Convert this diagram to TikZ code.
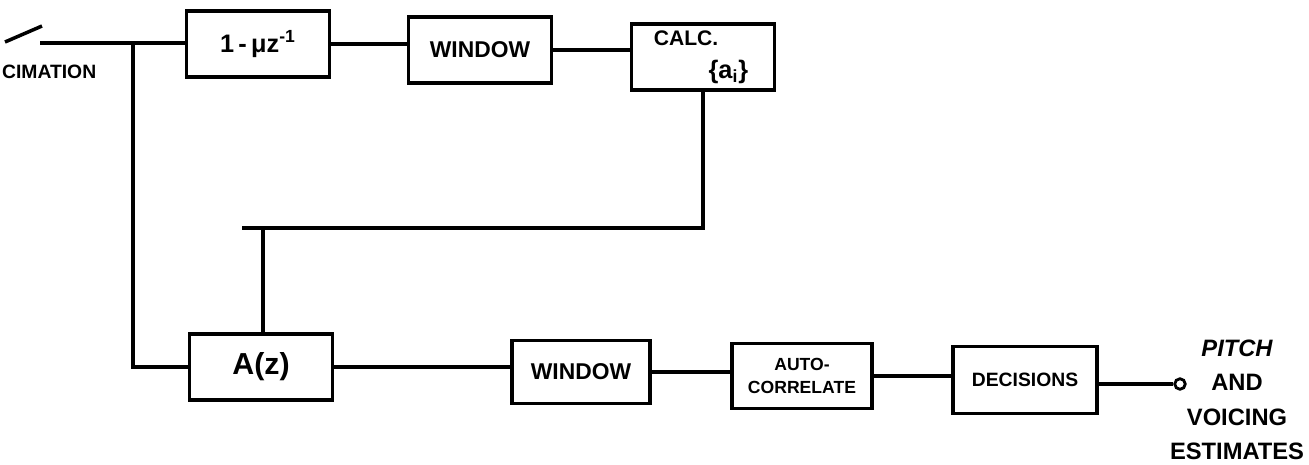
\documentclass[tikz,border=0pt]{standalone}
\usepackage{fontspec}
\setmainfont{Liberation Sans}
\usetikzlibrary{positioning,calc}
\tikzset{
  blk/.style={draw,line width=2pt,minimum width=2.86cm,minimum height=1.32cm,
    font=\bfseries\large,inner sep=2pt},
  wire/.style={line width=2pt},
  lbl/.style={font=\bfseries,inner sep=1pt},
}

\begin{document}
\begin{tikzpicture}[x=0.02cm,y=-0.02cm]
  \useasboundingbox (0,0) rectangle (1309,464);
  % upper branch
  \node[blk,font=\bfseries\Large] (mu) at (258,44) {1\,-\,μz\textsuperscript{-1}};
  \node[blk,font=\bfseries\fontsize{13}{16}\selectfont] (win1) at (480,50) {WINDOW};
  \node[blk] (calc) at (703,57) {};
  \node[lbl,anchor=north west,font=\bfseries\large] (calct) at ([shift={(22,6)}]calc.north west) {CALC.};
  \node[lbl,anchor=south east,font=\bfseries\Large] (calca) at ([shift={(-26,-6)}]calc.south east) {\{a\textsubscript{i}\}};
  % lower branch
  \node[blk,font=\bfseries\LARGE] (az) at (261,367) {A(z)};
  \node[blk,minimum width=2.76cm,minimum height=1.26cm,font=\bfseries\fontsize{13}{16}\selectfont] (win2) at (581,372) {WINDOW};
  \node[blk,minimum width=2.8cm,minimum height=1.3cm,align=center,font=\bfseries\fontsize{10}{13}\selectfont] (auto) at (802,376) {AUTO-\\CORRELATE};
  \node[blk,minimum width=2.88cm,minimum height=1.34cm,font=\bfseries\fontsize{11}{13}\selectfont] (dec) at (1025,380) {DECISIONS};
  \node[circle,draw,line width=1.6pt,inner sep=0pt,minimum size=6pt] (out) at (1180,384) {};
  \node[lbl,align=center,anchor=north,font=\bfseries\fontsize{13.5}{16}\selectfont,text depth=0pt] (est) at (1237,338)
    {\itshape PITCH\\[3.5pt]AND\\[3.5pt]VOICING\\[3.5pt]ESTIMATES};
  % input and switch
  \coordinate (sw) at (5,42);
  \coordinate (in) at (40,43);
  \coordinate (jn) at (133,44);
  \coordinate (fb) at (263,228);
  \node[lbl,anchor=west,font=\bfseries\fontsize{11}{13}\selectfont] (dcm) at (0,72) {CIMATION};
  \draw[wire] (sw) -- ++(37,-16);
  \draw[wire] (in) -- (in -| mu.west);
  \draw[wire] (jn) |- (az.west);
  \draw[wire] (mu.east) -- (mu.east -| win1.west);
  \draw[wire] (win1.east) -- (win1.east -| calc.west);
  \draw[wire] (calc.south) |- ([xshift=-12]fb);
  \draw[wire] (fb) -- (fb |- az.north);
  \draw[wire] (az.east) -- (az.east -| win2.west);
  \draw[wire] (win2.east) -- (win2.east -| auto.west);
  \draw[wire] (auto.east) -- (auto.east -| dec.west);
  \draw[wire] (dec.east |- out) -- (out.west);
\end{tikzpicture}
\end{document}
